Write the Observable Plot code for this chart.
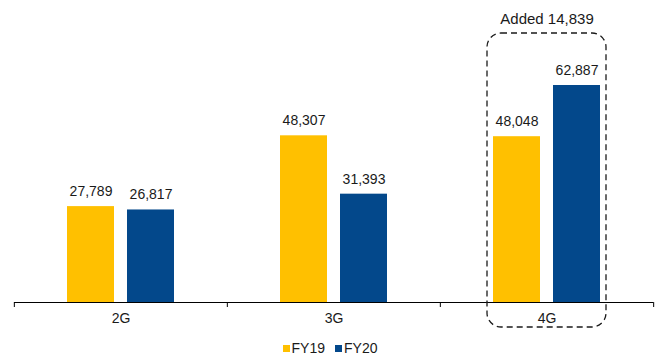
<!DOCTYPE html>
<html>
<head>
<meta charset="utf-8">
<script src="https://cdn.jsdelivr.net/npm/d3@7"></script>
<script src="https://cdn.jsdelivr.net/npm/@observablehq/plot@0.6"></script>
<style>
  body { margin: 0; background: #fff; }
  #chart { width: 660px; font-family: "Liberation Sans", Arial, sans-serif; }
  .legend { height: 26px; display: flex; justify-content: center; align-items: flex-start; padding-top: 9px; box-sizing: border-box; font-size: 14px; color: #1a1a1a; }
  .legend .item { display: flex; align-items: center; margin: 0 5px; line-height: 14px; }
  .legend .sw { width: 7px; height: 7px; margin-right: 2px; display: inline-block; }
</style>
</head>
<body>
<div id="chart"></div>
<script>
const categories = ["2G", "3G", "4G"];
const series = ["FY19", "FY20"];
const fy19 = [27789, 48307, 48048];
const fy20 = [26817, 31393, 62887];
const colors = ["#FFC000", "#03488B"];
const highlight = "4G";

const W = 660, H = 332, mL = 13, mR = 7, mT = 0, mB = 30;
const plotH = H - mT - mB;
const yMax = 87520;
const bw = (W - mL - mR) / categories.length;
const tickUnits = yMax * 5 / plotH;

const data = [];
categories.forEach((c, i) => {
  data.push({cat: c, series: "FY19", value: fy19[i]});
  data.push({cat: c, series: "FY20", value: fy20[i]});
});
const hi = categories.indexOf(highlight);
const boxData = [{cat: highlight, top: Math.max(fy19[hi], fy20[hi]), added: fy20[hi] - fy19[hi]}];
const fmt = d3.format(",");

const plot = Plot.plot({
  width: W, height: H,
  marginLeft: mL, marginRight: mR, marginTop: mT, marginBottom: mB,
  style: {fontFamily: "'Liberation Sans', Arial, sans-serif", fontSize: "14px", color: "#1a1a1a", overflow: "visible"},
  fx: {domain: categories, padding: 0, axis: "bottom", tickSize: 0, tickPadding: 11, label: null},
  x: {domain: series, axis: null, paddingInner: 0.213, paddingOuter: 0.855},
  y: {domain: [0, yMax], axis: null},
  color: {domain: series, range: colors},
  marks: [
    Plot.barY(data, {fx: "cat", x: "series", y: "value", fill: "series"}),
    Plot.text(data, {fx: "cat", x: "series", y: "value", text: d => fmt(d.value), dy: -15, lineAnchor: "middle", fontSize: 14, fill: "#1a1a1a"}),
    Plot.ruleY([0], {stroke: "#000", strokeWidth: 1}),
    Plot.ruleX(categories, {fx: d => d, x: null, y1: 0, y2: -tickUnits, dx: -bw / 2, stroke: "#000"}),
    Plot.ruleX([categories[categories.length - 1]], {fx: d => d, x: null, y1: 0, y2: -tickUnits, dx: bw / 2, stroke: "#000"}),
    Plot.rect(boxData, {fx: "cat", y1: 0, y2: "top", insetTop: -52, insetBottom: -25, insetLeft: 47, insetRight: 47, rx: 14, fill: "none", stroke: "#1a1a1a", strokeWidth: 1.3, strokeDasharray: "6,4"}),
    Plot.text(boxData, {fx: "cat", y: "top", text: d => `Added ${fmt(d.added)}`, dy: -66, lineAnchor: "middle", fontSize: 15, fill: "#1a1a1a"})
  ]
});

const chart = document.getElementById("chart");
chart.appendChild(plot);
const legend = document.createElement("div");
legend.className = "legend";
series.forEach((s, i) => {
  const item = document.createElement("span");
  item.className = "item";
  item.innerHTML = `<span class="sw" style="background:${colors[i]}"></span><span>${s}</span>`;
  legend.appendChild(item);
});
chart.appendChild(legend);
</script>
</body>
</html>
